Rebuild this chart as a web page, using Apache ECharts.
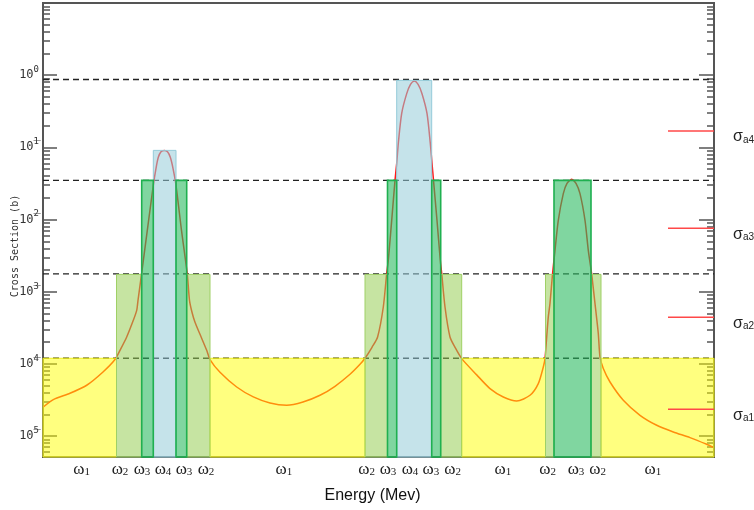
<!DOCTYPE html>
<html><head><meta charset="utf-8">
<script src="https://cdn.jsdelivr.net/npm/echarts@6/dist/echarts.min.js"></script>
<style>html,body{margin:0;padding:0;background:#fff}#c{width:754px;height:510px}</style>
</head><body><div id="c"></div>
<script>
// ---- data (x: energy in arbitrary units 0..671, y: log10 of cross section in b) ----
const energy = [0.3,10.3,27,43.7,60,72,77,83.7,90.3,93.7,95,98.5,104.3,110.3,113,115.3,118,121.3,124.5,127.3,130,133,138.5,144.3,146.5,149,152,157,163.7,167,177,193.7,210.3,227,243.7,260,277,292,307,317,322,329,334.6,340.3,343.7,345.3,348.7,352,353.7,355.3,358.7,363.7,367.5,371.3,375.1,379,384,387.3,389,390.5,394,397.3,398.7,402,407,412,418.7,433.7,447,460.3,473.7,487,495.3,500.3,502,503.7,505.3,507,509.5,512,515.3,520.3,524,528.7,533,537,542,545.3,548.7,552,555.3,557,560.3,567,580.3,597,613.7,630.3,647,663.7,670];
const logSigma = [-4.597,-4.494,-4.407,-4.296,-4.112,-3.940,-3.812,-3.627,-3.396,-3.258,-3.119,-2.759,-2.150,-1.526,-1.291,-1.138,-1.062,-1.042,-1.062,-1.138,-1.291,-1.526,-2.150,-2.759,-3.119,-3.285,-3.424,-3.590,-3.812,-3.940,-4.116,-4.320,-4.458,-4.542,-4.573,-4.528,-4.435,-4.310,-4.144,-4.006,-3.922,-3.770,-3.627,-3.212,-2.745,-2.565,-2.011,-1.457,-1.222,-0.945,-0.529,-0.256,-0.127,-0.082,-0.127,-0.256,-0.529,-0.945,-1.222,-1.457,-2.011,-2.565,-2.745,-3.212,-3.627,-3.770,-3.927,-4.152,-4.342,-4.458,-4.514,-4.435,-4.273,-4.043,-3.927,-3.627,-3.350,-3.161,-2.759,-2.427,-2.011,-1.641,-1.499,-1.443,-1.499,-1.641,-2.011,-2.427,-2.759,-3.165,-3.580,-3.904,-4.065,-4.251,-4.504,-4.712,-4.850,-4.943,-5.021,-5.114,-5.155];

const segStart = [0,73.5,98.7,110.3,133,143.7,167,322,344.5,353.7,388.7,397.7,418.7,502.5,511,548,558];
const segEnd   = [73.5,98.7,110.3,133,143.7,167,322,344.5,353.7,388.7,397.7,418.7,502.5,511,548,558,671];
const segTop   = [-3.922,-2.76,-1.457,-1.042,-1.457,-2.76,-3.922,-2.76,-1.457,-0.072,-1.457,-2.76,-3.922,-2.76,-1.457,-2.76,-3.922];
const segGroup = [1,2,3,4,3,2,1,2,3,4,3,2,1,2,3,2,1];

const omegaPos = [38.7,77,99,120,141,163,240.8,323.7,345,367,387.8,409.7,459.8,504.7,533,554.7,609.8];
const omegaSub = ['1','2','3','4','3','2','1','2','3','4','3','2','1','2','3','2','1'];

const dashedLevels = [-0.06,-1.457,-2.752,-3.922];
const sigmaLevels = [-4.629,-3.355,-2.122,-0.774];
const sigmaNames = ['a1','a2','a3','a4'];
const sigmaFrom = 625;

const decadeTicks = [-5,-4,-3,-2,-1,0];
const xMin = 0, xMax = 671, yMin = -5.29, yMax = 1.0;

// ---- derived ----
const minorTicks = [];
for (let k = -6; k <= 0; k++) for (let m = 2; m <= 9; m++) {
  const v = k + Math.log10(m);
  if (v > yMin && v < yMax) minorTicks.push(v);
}
const groupStyle = {
  1: {fill:'rgba(255,255,0,0.5)', stroke:'#eeee20', lw:1, z2:1},
  2: {fill:'rgba(151,206,86,0.55)', stroke:'#9fd066', lw:1, z2:2},
  4: {fill:'rgba(150,204,217,0.55)', stroke:'#94cbd9', lw:1, z2:3},
  3: {fill:'rgba(43,187,97,0.6)', stroke:'#1fb050', lw:1.6, z2:4}
};
const tickColor = '#555';
function yAxisDef(pos, ticks, len, labels) {
  return {
    type:'value', position:pos, min:yMin, max:yMax, z: 0,
    axisLine:{show:false}, splitLine:{show:false},
    axisTick:{show:true, inside:true, length:len, customValues:ticks, lineStyle:{color:tickColor, width:1.5}},
    axisLabel: labels ? {
      show:true, customValues:decadeTicks, margin:4,
      formatter: v => v === 0 ? '{b|10}{s|0}' : '{b|10\u0305}{s|' + Math.round(-v) + '}',
      rich:{
        b:{fontFamily:'DejaVu Sans Mono', fontSize:12, color:'#333', lineHeight:20},
        s:{fontFamily:'DejaVu Sans Mono', fontSize:9, color:'#333', lineHeight:10, verticalAlign:'top'}
      }
    } : {show:false}
  };
}
const yAxes = [
  yAxisDef('left', decadeTicks, 14, true),
  yAxisDef('left', minorTicks, 7, false),
  yAxisDef('right', decadeTicks, 15, false),
  yAxisDef('right', minorTicks, 7, false)
];
yAxes[0].name = 'Cross Section (b)';
yAxes[0].nameLocation = 'middle';
yAxes[0].nameGap = 23;
yAxes[0].nameMoveOverlap = false;
yAxes[0].nameTextStyle = {fontFamily:'DejaVu Sans Mono', fontSize:10, color:'#333', padding:[0,32,0,0]};

const series = [];
dashedLevels.forEach(lv => series.push({
  type:'line', z:1, symbol:'none', silent:true, xAxisIndex:0, yAxisIndex:0,
  data:[[xMin, lv],[xMax, lv]],
  lineStyle:{color:'#222', width:1.3, type:[6,4]}
}));
series.push({
  type:'line', z:1, symbol:'none', smooth:0.25, xAxisIndex:0, yAxisIndex:0,
  data: energy.map((e,i) => [e, logSigma[i]]),
  lineStyle:{color:'#ff1a1a', width:1.5}
});
series.push({
  type:'custom', z:3, xAxisIndex:0, yAxisIndex:0,
  encode:{x:[0,1], y:2},
  data: segStart.map((s,i) => [s, segEnd[i], segTop[i], segGroup[i]]),
  renderItem: (params, api) => {
    const p0 = api.coord([api.value(0), api.value(2)]);
    const p1 = api.coord([api.value(1), yMin]);
    const st = groupStyle[api.value(3)];
    return {type:'rect', z2:st.z2,
      shape:{x:p0[0], y:p0[1], width:p1[0]-p0[0], height:p1[1]-p0[1]},
      style:{fill:st.fill, stroke:st.stroke, lineWidth:st.lw}};
  }
});
sigmaLevels.forEach((lv,i) => series.push({
  type:'line', z:6, symbol:'none', xAxisIndex:0, yAxisIndex:0,
  data:[[sigmaFrom, lv],[xMax, lv]],
  lineStyle:{color:'#ff4848', width:1.5},
  endLabel:{show:true, distance:19, offset:[0,6],
    formatter:'{s|σ}{n|' + sigmaNames[i] + '}',
    rich:{
      s:{fontFamily:'Liberation Sans', fontSize:16, color:'#222', lineHeight:16, verticalAlign:'bottom'},
      n:{fontFamily:'Liberation Sans', fontSize:10, color:'#222', lineHeight:8, verticalAlign:'bottom'}
    }}
}));

const chart = echarts.init(document.getElementById('c'), null, {renderer:'canvas'});
chart.setOption({
  animation:false,
  backgroundColor:'#fff',
  grid:{left:43, right:40, top:3, bottom:53, show:true, borderColor:'#555', borderWidth:2, backgroundColor:'transparent', containLabel:false, outerBoundsMode:'none'},
  xAxis:[{
    type:'value', min:xMin, max:xMax, position:'bottom',
    axisLine:{show:true, onZero:false, lineStyle:{color:'#555', width:2}},
    axisTick:{show:false}, splitLine:{show:false},
    axisLabel:{show:true, customValues:omegaPos, margin:5,
      formatter: v => '{w|ω}{n|' + omegaSub[omegaPos.indexOf(v)] + '}',
      rich:{
        w:{fontFamily:'Liberation Serif', fontSize:17, color:'#222', lineHeight:16},
        n:{fontFamily:'Liberation Serif', fontSize:11, color:'#222', lineHeight:10, verticalAlign:'bottom'}
      }},
    name:'Energy (Mev)', nameLocation:'middle', nameGap:31, nameMoveOverlap:false,
    nameTextStyle:{fontFamily:'Liberation Sans', fontSize:16, color:'#111', padding:[0,12,0,0]}
  }],
  yAxis: yAxes,
  series
});
</script></body></html>
